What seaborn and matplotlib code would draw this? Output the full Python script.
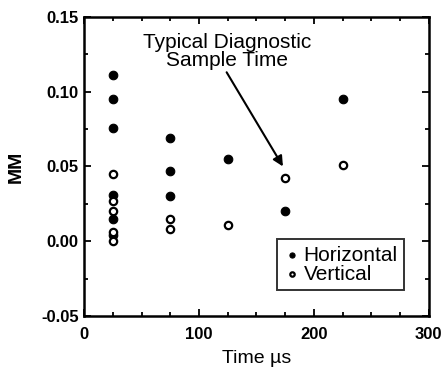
import matplotlib
matplotlib.use('Agg')
import numpy as np
import pandas as pd
import seaborn as sns
import matplotlib.pyplot as plt
from matplotlib.ticker import MultipleLocator

# Horizontal (filled) points
h_time = [25, 25, 25, 25, 25, 25, 75, 75, 75, 125, 175, 225]
h_mm = [0.111, 0.095, 0.076, 0.031, 0.015, 0.004, 0.069, 0.047, 0.030, 0.055, 0.020, 0.095]

# Vertical (open) points
v_time = [25, 25, 25, 25, 25, 75, 75, 125, 175, 225]
v_mm = [0.045, 0.027, 0.020, 0.006, 0.000, 0.015, 0.008, 0.011, 0.042, 0.051]

sns.set_style("ticks")
plt.rcParams['font.family'] = ['Liberation Sans', 'DejaVu Sans']
plt.rcParams['text.color'] = 'black'
plt.rcParams['axes.labelcolor'] = 'black'
plt.rcParams['xtick.color'] = 'black'
plt.rcParams['ytick.color'] = 'black'

fig = plt.figure(figsize=(4.43, 3.69), dpi=100)
ax = fig.add_axes([0.19, 0.144, 0.778, 0.81])

sns.scatterplot(x=h_time, y=h_mm, ax=ax, color='black', s=38,
                edgecolor='black', linewidth=0.8, label='Horizontal', zorder=3)
sns.scatterplot(x=v_time, y=v_mm, ax=ax, facecolor='white', s=28,
                edgecolor='black', linewidth=1.6, label='Vertical', zorder=3)

ax.set_xlim(0, 300)
ax.set_ylim(-0.05, 0.15)
ax.xaxis.set_major_locator(MultipleLocator(100))
ax.xaxis.set_minor_locator(MultipleLocator(25))
ax.yaxis.set_major_locator(MultipleLocator(0.05))
ax.yaxis.set_minor_locator(MultipleLocator(0.025))
ax.set_yticklabels([f'{v:.2f}' for v in ax.get_yticks()])
ax.tick_params(which='both', direction='in', top=True, right=True,
               width=1.3, color='black')
ax.tick_params(which='major', length=5, labelsize=12, pad=4)
ax.tick_params(axis='x', which='major', pad=8)
ax.tick_params(which='minor', length=3)
for lbl in ax.get_xticklabels() + ax.get_yticklabels():
    lbl.set_fontweight('bold')
for sp in ax.spines.values():
    sp.set_linewidth(1.8)
    sp.set_color('black')

ax.set_xlabel('Time µs', fontsize=14, labelpad=6)
ax.set_ylabel('MM', fontsize=14, fontweight='bold', labelpad=12)

ax.text(124, 0.127, 'Typical Diagnostic\nSample Time', ha='center', va='center',
        fontsize=15, linespacing=0.95)
ax.annotate('', xy=(173, 0.050), xytext=(124, 0.113),
            arrowprops=dict(arrowstyle='-|>', color='black', lw=1.5,
                            mutation_scale=15, shrinkA=0, shrinkB=0))

leg = ax.legend(loc='lower right', bbox_to_anchor=(0.928, 0.087), fontsize=15,
                frameon=True, fancybox=False, handletextpad=0.1,
                borderpad=0.3, labelspacing=0.0, handlelength=0.9,
                markerscale=0.6, borderaxespad=0)
leg.get_frame().set_edgecolor('black')
leg.get_frame().set_linewidth(1.4)

fig.savefig('out.png', dpi=100)
